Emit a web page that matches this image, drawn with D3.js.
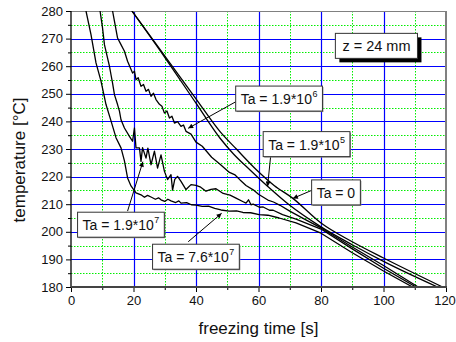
<!DOCTYPE html>
<html>
<head>
<meta charset="utf-8">
<script src="https://cdn.jsdelivr.net/npm/d3@7/dist/d3.min.js"></script>
<style>
  html, body { margin: 0; padding: 0; background: #fff; }
  svg { display: block; font-family: "Liberation Sans", Arial, sans-serif; }
</style>
</head>
<body>
<svg id="chart" width="456" height="342"></svg>
<script>
// ---------------- data ----------------
const xTicks = [0, 20, 40, 60, 80, 100, 120];
const yTicks = [180, 190, 200, 210, 220, 230, 240, 250, 260, 270, 280];
const xTitle = "freezing time [s]";
const yTitle = "temperature [°C]";

// Ta = 7.6*10^7
const tA = [4.8, 6.4, 8.0, 9.6, 11.2, 12.8, 14.4, 16.0, 17.1, 18.1, 19.2, 20.8, 22.4, 23.5, 24.5, 25.6, 27.0, 28.0, 28.8, 30.0, 31.0, 32.0, 33.5, 34.5, 35.2, 37.0, 38.5, 40.0, 42.0, 44.0, 46.0, 48.0, 50.6, 53.0, 55.0, 57.5, 60.2, 63.0, 66.6, 72.0, 80.0, 90.0, 100.0, 109.3];
const TA = [280, 271.4, 261.2, 254.6, 246.1, 240.2, 234.1, 230.4, 225.7, 219.5, 216.6, 214.1, 213.4, 212.5, 213.2, 212.6, 211.8, 212.3, 211.6, 211.0, 211.8, 211.2, 210.6, 211.2, 210.4, 210.6, 209.8, 209.7, 209.2, 209.3, 208.5, 207.9, 207.5, 207.6, 207.0, 206.9, 206.2, 206.0, 205.0, 203.2, 199.5, 192.4, 185.8, 180];

// Ta = 1.9*10^7
const tB = [9.3, 10.1, 10.7, 11.2, 12.3, 12.8, 13.3, 13.9, 14.9, 15.5, 16.0, 17.1, 18.7, 19.7, 20.3, 20.8, 21.9, 22.4, 22.9, 24.0, 24.6, 25.6, 26.7, 27.7, 28.8, 29.9, 30.9, 32.0, 32.5, 33.2, 34.1, 35.2, 36.8, 38.4, 40.0, 41.3, 43.2, 44.8, 46.4, 48.7, 50.9, 52.8, 55.1, 56.0, 56.8, 57.6, 58.3, 60.3, 61.5, 63.5, 64.7, 67.7, 72.0, 80.0, 90.0, 100.0, 110.4];
const TB = [280, 273.8, 267.8, 265.4, 260.0, 256.9, 253.9, 249.7, 246.1, 243.7, 240.6, 237.6, 234.6, 232.8, 237.6, 230.4, 230.4, 225.5, 230.5, 226.7, 230.3, 224.3, 229.2, 223.1, 227.9, 221.9, 218.9, 220.7, 215.1, 219.0, 220.1, 218.3, 215.3, 217.1, 216.8, 216.3, 214.7, 215.4, 215.6, 213.9, 213.3, 212.2, 210.9, 210.4, 211.6, 209.8, 210.0, 208.9, 209.0, 207.8, 207.8, 206.2, 204.6, 201.0, 193.8, 186.8, 180];

// Ta = 1.9*10^6
const tC = [13.3, 13.9, 14.9, 16.0, 17.1, 18.1, 19.7, 20.3, 20.8, 21.5, 22.4, 23.2, 24.0, 24.8, 25.6, 26.4, 27.2, 28.3, 29.1, 29.9, 30.7, 31.5, 32.3, 33.1, 34.1, 35.2, 36.0, 36.8, 38.4, 40.0, 42.0, 45.0, 47.7, 50.7, 52.5, 54.1, 56.0, 58.3, 60.0, 61.3, 63.0, 64.8, 66.9, 70.0, 75.0, 80.0, 90.0, 100.0, 111.1];
const TC = [280, 276.3, 270.2, 267.8, 265.4, 261.8, 257.5, 258.2, 255.1, 255.8, 252.7, 253.4, 250.9, 251.6, 249.1, 250.2, 247.9, 246.2, 245.5, 243.0, 243.8, 241.2, 241.9, 239.4, 239.9, 238.2, 238.7, 236.4, 235.4, 232.5, 231.0, 227.0, 224.5, 221.5, 220.6, 218.8, 216.8, 215.2, 213.6, 212.7, 211.5, 210.8, 209.6, 207.5, 204.4, 201.4, 194.5, 187.8, 180];

// Ta = 1.9*10^5
const tD = [19.5, 30, 40, 47.7, 52, 57.3, 62.9, 70, 80, 90, 100, 117.3];
const TD = [280, 263.2, 246.6, 233.9, 228.2, 222.4, 216.5, 209.6, 201.8, 195.3, 189.3, 180];

// Ta = 0
const tE = [19.5, 30, 40, 47.7, 53, 59.4, 65, 70.9, 80, 90, 100, 118.9];
const TE = [280, 263.7, 248.2, 236.3, 229.9, 222.4, 216.8, 212.2, 203.2, 196.4, 190.5, 180];

const seriesT = [tA, tB, tC, tD, tE];
const seriesV = [TA, TB, TC, TD, TE];

// annotation texts (base, superscript)
const noteText = [["Ta = 1.9*10", "6"], ["Ta = 1.9*10", "5"], ["Ta = 0", ""], ["Ta = 1.9*10", "7"], ["Ta = 7.6*10", "7"]];
// ---------------- layout ----------------
const W = 456, H = 342;
const L = 71, R = 446, T = 11, B = 287;
// box left/top, arrow start, arrow tip (in data units)
const noteLayout = [
  { bx: 52.7, by: 252.8, ax: 52.7, ay: 247.1, tx: 37.5, ty: 237.5 },
  { bx: 61.5, by: 236.3, ax: 63.9, ay: 227.6, tx: 62.9, ty: 216.4 },
  { bx: 77.0, by: 218.8, ax: 77.0, ay: 215.0, tx: 71.0, ty: 212.1 },
  { bx: 2.1,  by: 207.1, ax: 18.1, ay: 207.5, tx: 23.0, ty: 225.4 },
  { bx: 26.1, by: 195.5, ax: 37.5, ay: 196.4, tx: 48.2, ty: 206.7 }
];

const svg = d3.select("#chart");
const x = d3.scaleLinear().domain([0, 120]).range([L, R]);
const y = d3.scaleLinear().domain([180, 280]).range([B, T]);

const defs = svg.append("defs");
defs.append("clipPath").attr("id", "clip").append("rect")
  .attr("x", L).attr("y", T).attr("width", R - L).attr("height", B - T);
defs.append("marker").attr("id", "arr").attr("viewBox", "0 0 10 10")
  .attr("refX", 10).attr("refY", 5).attr("markerWidth", 7).attr("markerHeight", 5)
  .attr("markerUnits", "userSpaceOnUse").attr("orient", "auto")
  .append("path").attr("d", "M0,0 L10,5 L0,10 z").attr("fill", "#000");

// grid
const g = svg.append("g");
const minorX = d3.range(10, 120, 20);
const minorY = d3.range(185, 280, 10);
const majorX = d3.range(20, 120, 20);
const majorY = d3.range(190, 280, 10);
g.selectAll(".mx").data(minorX).enter().append("line")
  .attr("x1", d => Math.round(x(d)) + 0.5).attr("x2", d => Math.round(x(d)) + 0.5)
  .attr("y1", T).attr("y2", B).attr("stroke", "#00ee00").attr("stroke-width", 1).attr("stroke-dasharray", "1.5,1.5");
g.selectAll(".my").data(minorY).enter().append("line")
  .attr("y1", d => Math.round(y(d)) + 0.5).attr("y2", d => Math.round(y(d)) + 0.5)
  .attr("x1", L).attr("x2", R).attr("stroke", "#00ee00").attr("stroke-width", 1).attr("stroke-dasharray", "1.5,1.5");
g.selectAll(".Mx").data(majorX).enter().append("line")
  .attr("x1", d => Math.round(x(d)) + 0.5).attr("x2", d => Math.round(x(d)) + 0.5)
  .attr("y1", T).attr("y2", B).attr("stroke", "#0000ff").attr("stroke-width", 1.2);
g.selectAll(".My").data(majorY).enter().append("line")
  .attr("y1", d => Math.round(y(d)) + 0.5).attr("y2", d => Math.round(y(d)) + 0.5)
  .attr("x1", L).attr("x2", R).attr("stroke", "#0000ff").attr("stroke-width", 1.2);

// frame top/right
svg.append("line").attr("x1", L).attr("x2", R).attr("y1", T + 0.5).attr("y2", T + 0.5).attr("stroke", "#808080").attr("stroke-width", 1.2);
svg.append("line").attr("x1", R).attr("x2", R).attr("y1", T).attr("y2", B).attr("stroke", "#808080").attr("stroke-width", 2);

// curves
const line = d3.line().x(d => x(d[0])).y(d => y(d[1]));
const curves = svg.append("g").attr("clip-path", "url(#clip)");
seriesT.forEach((ts, i) => {
  const pts = ts.map((t, j) => [t, seriesV[i][j]]);
  curves.append("path").datum(pts)
    .attr("d", i >= 3 ? line.curve(d3.curveMonotoneX)(pts) : line.curve(d3.curveLinear)(pts))
    .attr("fill", "none").attr("stroke", "#000").attr("stroke-width", 1.3).attr("stroke-linejoin", "round");
});

// axes
const fontTick = 13;
const yAxis = d3.axisLeft(y).tickValues(yTicks).tickSize(5).tickPadding(3).tickFormat(d3.format("d"));
const ya = svg.append("g").attr("transform", `translate(${L},0)`).call(yAxis);
ya.select(".domain").remove();
ya.selectAll("line").attr("stroke", "#000");
ya.selectAll("text").attr("font-size", fontTick).attr("fill", "#111").attr("font-family", "Liberation Sans, Arial, sans-serif");
const yMinor = d3.axisLeft(y).tickValues(d3.range(185, 280, 10)).tickSize(3).tickFormat("");
const ym = svg.append("g").attr("transform", `translate(${L},0)`).call(yMinor);
ym.select(".domain").remove();
ym.selectAll("line").attr("stroke", "#000");

const xAxis = d3.axisBottom(x).tickValues(xTicks).tickSize(5).tickPadding(4).tickFormat(d3.format("d"));
const xa = svg.append("g").attr("transform", `translate(0,${B})`).call(xAxis);
xa.select(".domain").remove();
xa.selectAll("line").attr("stroke", "#000");
xa.selectAll("text").attr("font-size", fontTick).attr("fill", "#111").attr("font-family", "Liberation Sans, Arial, sans-serif")
  .attr("dx", d => d === 120 ? -1.5 : 0);
const xMinor = d3.axisBottom(x).tickValues(d3.range(10, 120, 20)).tickSize(3).tickFormat("");
const xm = svg.append("g").attr("transform", `translate(0,${B})`).call(xMinor);
xm.select(".domain").remove();
xm.selectAll("line").attr("stroke", "#000");

svg.append("line").attr("x1", L).attr("x2", L).attr("y1", T).attr("y2", B + 1).attr("stroke", "#000").attr("stroke-width", 1.3);
svg.append("line").attr("x1", L).attr("x2", R + 1).attr("y1", B).attr("y2", B).attr("stroke", "#444").attr("stroke-width", 2);

// titles
svg.append("text").attr("x", (L + R) / 2).attr("y", 334).attr("text-anchor", "middle")
  .attr("font-size", 17).attr("fill", "#111").text(xTitle);
svg.append("text").attr("transform", "translate(25,160) rotate(-90)").attr("text-anchor", "middle")
  .attr("font-size", 17).attr("fill", "#111").text(yTitle);

// annotations
const ann = svg.append("g");
noteLayout.forEach((n, i) => {
  ann.append("line").attr("x1", x(n.ax)).attr("y1", y(n.ay)).attr("x2", x(n.tx)).attr("y2", y(n.ty))
    .attr("stroke", "#000").attr("stroke-width", 1).attr("marker-end", "url(#arr)");
});
noteLayout.forEach((n, i) => {
  const grp = ann.append("g");
  const bx = x(n.bx), by = y(n.by);
  const txt = grp.append("text").attr("x", bx + 5).attr("y", by + 18).attr("font-size", 14).attr("fill", "#111");
  txt.append("tspan").text(noteText[i][0]);
  if (noteText[i][1]) txt.append("tspan").attr("font-size", 9).attr("dy", -7).attr("dx", 0.5).text(noteText[i][1]);
  const bb = txt.node().getBBox();
  const w = bb.width + 10, h = 25;
  grp.insert("rect", "text").attr("x", bx + 1).attr("y", by + 1).attr("width", w).attr("height", h).attr("fill", "#888");
  grp.insert("rect", "text").attr("x", bx).attr("y", by).attr("width", w).attr("height", h)
    .attr("fill", "#fff").attr("stroke", "#333").attr("stroke-width", 1);
});

// z label
const zg = svg.append("g");
const zx = x(84.6), zy = y(271.9);
const zt = zg.append("text").attr("x", zx + 7).attr("y", zy + 18).attr("font-size", 14.5).attr("fill", "#111").text("z = 24 mm");
const zb = zt.node().getBBox();
const zw = zb.width + 14, zh = 25;
zg.insert("rect", "text").attr("x", zx + 4).attr("y", zy + 4).attr("width", zw).attr("height", zh).attr("fill", "#000");
zg.insert("rect", "text").attr("x", zx).attr("y", zy).attr("width", zw).attr("height", zh)
  .attr("fill", "#fff").attr("stroke", "#333").attr("stroke-width", 1);
</script>
</body>
</html>
